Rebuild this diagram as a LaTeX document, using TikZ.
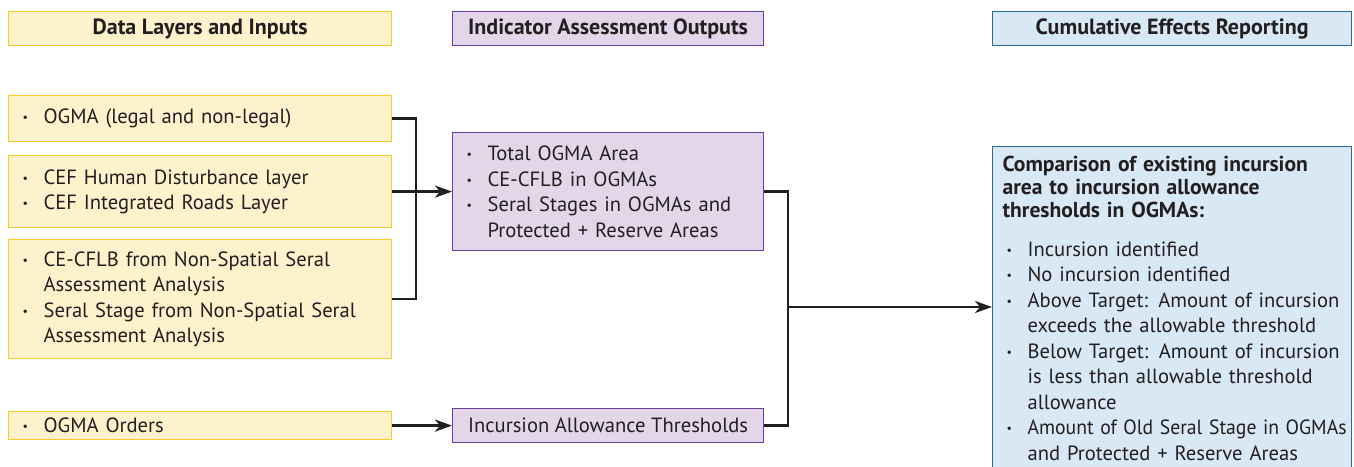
\documentclass[tikz,border=0pt]{standalone}
\usepackage{fontspec}
\setmainfont{PT Sans}
\usepackage{graphicx}
\usetikzlibrary{arrows.meta}
\usetikzlibrary{positioning}
\definecolor{inkgrey}{HTML}{231F20}
\definecolor{infill}{HTML}{FEF2CD}
\definecolor{inborder}{HTML}{F8CB2E}
\definecolor{outfill}{HTML}{E2D6E8}
\definecolor{outborder}{HTML}{6B40A0}
\definecolor{repfill}{HTML}{D9E8F5}
\definecolor{repborder}{HTML}{2A6B96}

\hyphenpenalty=10000
\newcommand{\bodyfont}{\fontsize{20.6}{25.5}\selectfont}
\newcommand{\titlefont}{\fontsize{22}{24}\selectfont\bfseries}
\newcommand{\headfont}{\fontsize{21.6}{23.3}\selectfont\bfseries}
% bullet item, and a wrapped line that lines up with the item text
\newcommand{\bul}[1]{\makebox[21pt][l]{\raisebox{2pt}{\fontsize{12}{12}\selectfont\textbullet}}#1}
\newcommand{\cont}{\newline\hspace*{21pt}}
% one line held to a given width
\newcommand{\squeeze}[2]{\resizebox{#1}{\height}{#2}}

\begin{document}
\begin{tikzpicture}[x=1pt, y=-1pt,
    panel/.style={line width=1.2pt, anchor=north west, text=inkgrey},
    inbox/.style={panel, draw=inborder, fill=infill, text width=355pt,
      inner xsep=14pt, inner ysep=0pt, align=left, font=\bodyfont},
    outbox/.style={panel, draw=outborder, fill=outfill, text width=283pt,
      inner xsep=14pt, inner ysep=0pt, align=left, font=\bodyfont},
    headbox/.style={panel, minimum height=34pt, inner sep=0pt, font=\titlefont},
    link/.style={line width=2.6pt, draw=inkgrey},
    arrow/.style={link, -{Stealth[length=17pt, width=12pt, inset=5pt]}},
  ]
  \clip (0,0) rectangle (1354,466);

  % column headings
  \node[headbox, draw=inborder, fill=infill, minimum width=383pt] (hin) at (8,11)
    {Data Layers and Inputs};
  \node[headbox, draw=outborder, fill=outfill, minimum width=311pt] (hout) at (452,11)
    {Indicator Assessment Outputs};
  \node[headbox, draw=repborder, fill=repfill, minimum width=359pt] (hrep) at (992,11)
    {Cumulative Effects Reporting};

  % inputs
  \node[inbox, minimum height=46pt] (ogma) at (8,95)
    {\bul{OGMA (legal and non-legal)}};
  \node[inbox, minimum height=72pt] (cef) at (8,155)
    {\bul{CEF Human Disturbance layer}\par
     \bul{CEF Integrated Roads Layer}};
  \node[inbox, minimum height=119pt] (nonsp) at (8,239)
    {\bul{CE-CFLB from Non-Spatial Seral\cont Assessment Analysis}\par
     \bul{Seral Stage from Non-Spatial Seral\cont Assessment Analysis}};
  \node[inbox, minimum height=28pt] (orders) at (8,411)
    {\bul{OGMA Orders}};

  % outputs
  \node[outbox, minimum height=118pt] (ind) at (452,132)
    {\bul{Total OGMA Area}\par
     \bul{CE-CFLB in OGMAs}\par
     \bul{Seral Stages in OGMAs and\cont Protected + Reserve Areas}};
  \node[panel, draw=outborder, fill=outfill, minimum width=311pt, minimum height=34pt,
    inner sep=0pt, font=\bodyfont] (thr) at (452,408)
    {Incursion Allowance Thresholds};

  % reporting
  \node[panel, draw=repborder, fill=repfill, text width=355pt, inner xsep=2pt,
    inner ysep=9pt, align=left, font=\bodyfont] (cmp) at (992,146)
    {{\headfont\leftskip=8pt Comparison of existing incursion\newline
      area to incursion allowance\newline
      thresholds in OGMAs:\par}
     \vspace{13pt}\leftskip=12pt
     \bul{Incursion identified}\par
     \bul{No incursion identified}\par
     \bul{Above Target: Amount of incursion\cont exceeds the allowable threshold}\par
     \bul{Below Target: Amount of incursion\cont is less than allowable threshold\cont allowance}\par
     \bul{\squeeze{319pt}{Amount of Old Seral Stage in OGMAs}\cont and Protected + Reserve Areas}\par};

  % connectors
  \coordinate (jin) at (416,191);
  \coordinate (jout) at (788,307);
  \draw[link] (ogma.east) -| (jin) |- (nonsp.east);
  \draw[arrow] (cef.east) -- (ind.west);
  \draw[arrow] (orders.east) -- (thr.west);
  \draw[link] (ind.east) -| (jout) |- (thr.east);
  \draw[arrow] (jout) -- (jout -| cmp.west);
\end{tikzpicture}
\end{document}
